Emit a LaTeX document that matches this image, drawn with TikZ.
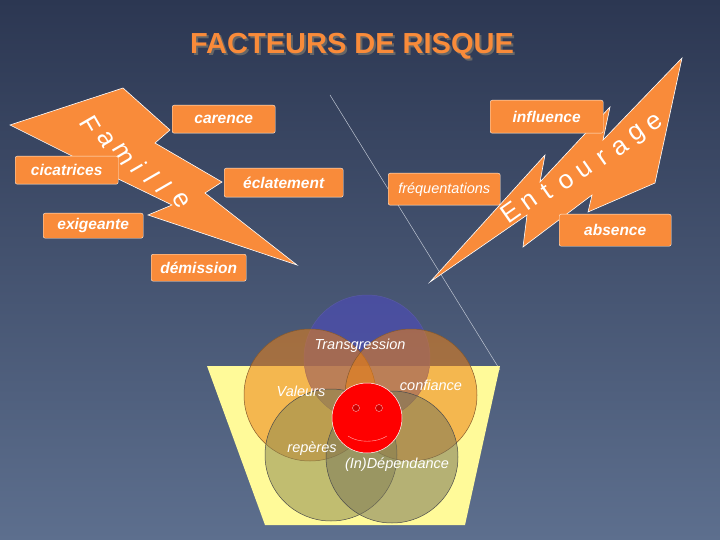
\documentclass[tikz,border=0pt]{standalone}
\usepackage{fontspec}
\setmainfont{Liberation Sans}
\begin{document}
\begin{tikzpicture}[x=1pt,y=-1pt,
  lbl/.style={draw=white!85!orange,fill=orangeF,rounded corners=2pt,text=white,font=\bfseries\itshape\fontsize{15.5}{17}\selectfont,anchor=north west,inner sep=0pt},
  bolt/.style={fill=orangeF,draw=white,line width=0.6pt},
  big/.style={text=white,font=\fontsize{26}{28}\selectfont},
  vt/.style={text=white,font=\itshape\fontsize{14.5}{16}\selectfont},
  vc/.style={line width=0.5pt}]
\definecolor{orangeF}{HTML}{F98B3A}
\definecolor{bgT}{HTML}{2C3752}
\definecolor{bgB}{HTML}{5D6F8E}
\shade[top color=bgT,bottom color=bgB] (0,0) rectangle (720,540);
\useasboundingbox (0,0) rectangle (720,540);
\draw[white!60!bgB,line width=0.5pt] (330,95) -- (500,370);
\node[text=black!60,font=\bfseries\fontsize{29}{31}\selectfont] at (354,48) {FACTEURS DE RISQUE};
\node (title) [text=orangeF,font=\bfseries\fontsize{29}{31}\selectfont] at (352,46) {FACTEURS DE RISQUE};
% bolts
\draw[bolt] (10,125)--(123,88)--(170,130)--(155,143)--(222,182)--(205,193)--(297,265)--(148,215)--(172,205)--(110,175)--cycle;
\draw[bolt] (430,282)--(545,155)--(540,182)--(610,107)--(603,140)--(682,58)--(655,183)--(588,212)--(592,195)--(523,247)--(527,215)--cycle;
\foreach \c/\x/\y in {F/90/125,a/106/139,m/123/154,i/139/167,l/152/177,l/164/187,e/181/200}
  \node[big,rotate=-60] at (\x,\y) {\c};
\foreach \c/\x/\y in {E/510/212,n/529/202,t/547/192,o/566/182,u/585/170,r/603/158,a/620/148,g/638/135,e/654/123}
  \node[big,rotate=35] at (\x,\y) {\c};
% labels
\node (carence) [lbl,minimum width=103pt,minimum height=28pt] at (172,105) {carence};
\node (cic) [lbl,minimum width=103pt,minimum height=28pt] at (15,156) {cicatrices};
\node (ecl) [lbl,minimum width=119pt,minimum height=29pt] at (224,168) {éclatement};
\node (exi) [lbl,minimum width=100pt,minimum height=25pt] at (43,213) {exigeante};
\node (dem) [lbl,minimum width=95pt,minimum height=27pt] at (151,254) {démission};
\node (inf) [lbl,minimum width=113pt,minimum height=33pt] at (490,100) {influence};
\node (fre) [lbl,font=\itshape\fontsize{14.5}{16}\selectfont,minimum width=112pt,minimum height=32pt] at (388,173) {fréquentations};
\node (abs) [lbl,minimum width=112pt,minimum height=32pt] at (559,214) {absence};
% basket
\fill[fill=yellow!40!white] (207,366)--(500,366)--(465,525)--(265,525)--cycle;
\draw[vc,draw=blue!30!gray,fill=blue!40!gray,fill opacity=0.7] (367,358) circle (63);
\draw[vc,draw=brown!70!black,fill=orange!70!brown,fill opacity=0.55] (310,395) circle (66);
\draw[vc,draw=brown!70!black,fill=orange!70!brown,fill opacity=0.55] (411,395) circle (66);
\draw[vc,draw=black!70,fill=olive!45!gray,fill opacity=0.55] (331,455) circle (66);
\draw[vc,draw=black!70,fill=olive!35!gray!80!black,fill opacity=0.55] (392,457) circle (66);
\draw[white,fill=red,line width=0.5pt] (367,418) circle (35) node (smile) {};
\draw[white!70!red,fill=red!80!black] (356,408) circle (3.5) (379,408) circle (3.5);
\draw[white!70!red] (348,436) .. controls (358,443) and (376,443) .. (387,436);
\node[vt] (tr) at (360,346) {Transgression};
\node[vt] (va) at (301,391) {Valeurs};
\node[vt] (co) at (431,385) {confiance};
\node[vt] (re) at (312,449) {repères};
\node[vt] (de) at (397,465) {(In)Dépendance};
\end{tikzpicture}
\end{document}
